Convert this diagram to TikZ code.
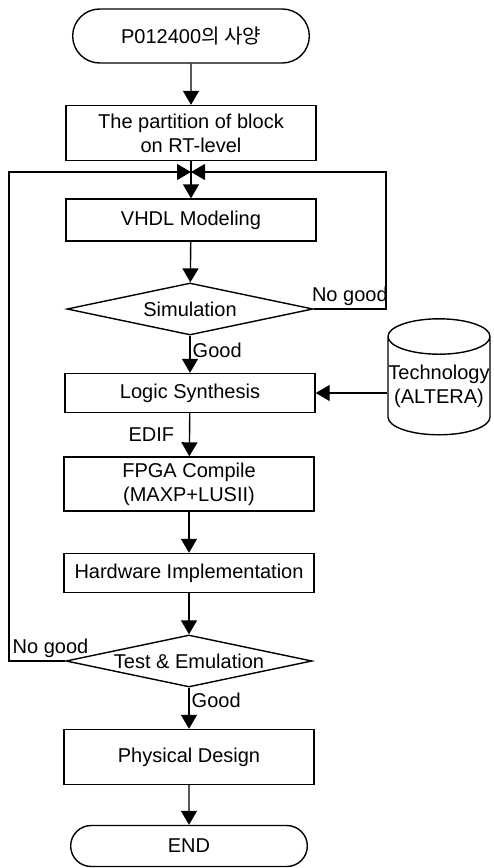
\documentclass[tikz,border=0pt]{standalone}
\usepackage{fontspec}
\setmainfont{Liberation Sans}
\newfontfamily\krfont{Noto Sans CJK KR}
\usepackage{tikz}
\usetikzlibrary{positioning, arrows.meta, shapes.geometric, shapes.misc}

\begin{document}
\begin{tikzpicture}[x=0.5pt, y=-0.5pt, line width=0.7pt,
  every node/.style={font=\fontsize{10}{12}\selectfont},
  proc/.style={draw, minimum width=125pt, align=center, inner sep=2pt},
  term/.style={draw, rounded rectangle, minimum width=125pt},
  decide/.style={draw, diamond, aspect=4.7, inner sep=0pt, minimum width=123pt, minimum height=26pt},
  store/.style={draw, cylinder, shape border rotate=90, aspect=0.35, minimum width=51pt, minimum height=58pt, align=center, inner xsep=0pt},
  arr/.style={-{Triangle[length=7pt, width=8pt]}}]
  \useasboundingbox (0,0) rectangle (493,868);
  % main column
  \node[term, minimum height=27pt] (start) at (191,36) {P012400{\krfont 의 사양}};
  \node[proc, minimum height=27.5pt] (part) at (191,133) {The partition of block\\on RT-level};
  \node[proc, minimum height=21pt] (vhdl) at (191,220) {VHDL Modeling};
  \node[decide] (sim) at (190,309) {Simulation};
  \node[proc, minimum height=19.5pt] (logic) at (190,393) {Logic Synthesis};
  \node[store] (tech) at (439,386) {Technology\\(ALTERA)};
  \node[proc, minimum height=27pt] (fpga) at (189,484) {FPGA Compile\\(MAXP+LUSII)};
  \node[proc, minimum height=19.5pt] (hw) at (189,573) {Hardware Implementation};
  \node[decide] (test) at (189,661) {Test \& Emulation};
  \node[proc, minimum height=27.5pt] (phys) at (189,757) {Physical Design};
  \node[term, minimum height=20.5pt] (finish) at (189,846) {END};
  % loop-back points
  \coordinate (merge) at (191,172);
  \coordinate (rtop) at (386,172);
  \coordinate (ltop) at (9,172);
  % connectors
  \draw[arr] (start) -- (part);
  \draw (part) -- (merge);
  \draw[arr] (merge) -- (vhdl);
  \draw[arr] (vhdl) -- (sim);
  \draw[arr] (sim) -- node[pos=0.4, right, inner sep=1pt] {Good} (logic);
  \draw[arr] (sim.east) -- node[above, inner sep=1.5pt] {No good} (sim.east -| rtop) -- (rtop) -- (merge);
  \draw[arr] (tech.west |- logic) -- (logic.east);
  \draw[arr] (logic) -- node[left=4pt] {EDIF} (fpga);
  \draw[arr] (fpga) -- (hw);
  \draw[arr] (hw) -- (test);
  \draw[arr] (test.west) -- node[pos=1, above right, inner sep=1.5pt] {No good} (test.west -| ltop) -- (ltop) -- (merge);
  \draw[arr] (test) -- node[pos=0.3, right, inner sep=1pt] {Good} (phys);
  \draw[arr] (phys) -- (finish);
\end{tikzpicture}
\end{document}
